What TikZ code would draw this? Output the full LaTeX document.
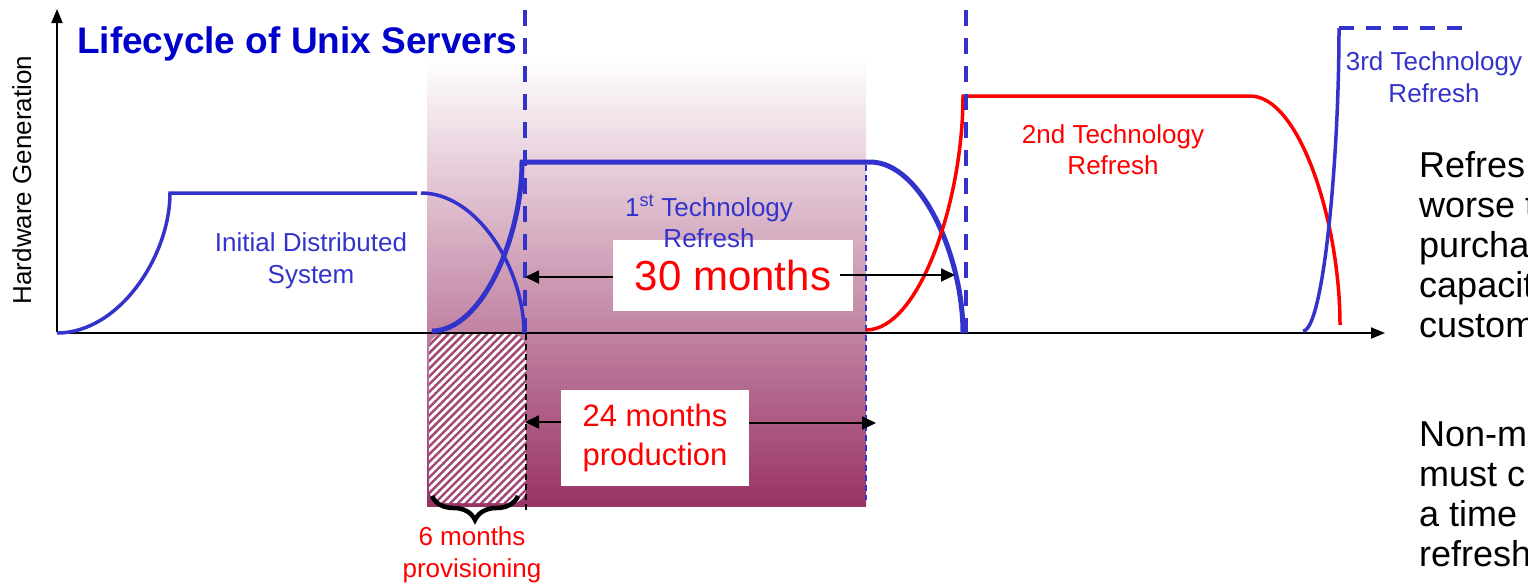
\documentclass[tikz,border=0pt]{standalone}
\usepackage{fontspec}
\setmainfont{Liberation Sans}
\usetikzlibrary{arrows.meta,patterns.meta,decorations.pathreplacing,shadings}
\definecolor{tblue}{RGB}{51,51,204}
\definecolor{ttitle}{RGB}{0,0,204}
\definecolor{tred}{RGB}{255,0,0}
\definecolor{tmaroon}{RGB}{153,51,102}
\definecolor{tstripe}{RGB}{160,72,115}
\begin{document}
\begin{tikzpicture}[x=1pt,y=-1pt,
  gen0/.style={draw=tblue,line width=3.5pt},
  gen1/.style={draw=tblue,line width=5pt},
  gen2/.style={draw=tred,line width=3.5pt},
  vdash/.style={draw=tblue,line width=4.5pt,dash pattern=on 16pt off 12pt},
  thindash/.style={line width=1.6pt,dash pattern=on 6pt off 4pt},
  lbl/.style={font=\fontsize{26}{31.5}\selectfont,align=center,inner sep=0pt},
  valbox/.style={fill=white,inner sep=0pt,text=tred,align=center},
  dimarrow/.style={draw=black,line width=1.8pt,-{Triangle[length=14pt,width=13pt]}},
  axisarrow/.style={draw=black,line width=2pt,-{Triangle[length=14pt,width=11pt]}},
  sidetext/.style={font=\fontsize{36}{40}\selectfont,align=left,inner sep=0pt,anchor=north west}
]
\useasboundingbox (0,0) rectangle (1528,584);
\clip (0,0) rectangle (1528,584);

% gradient background of the refresh window
\shade[top color=white,bottom color=tmaroon] (427,58) rectangle (866,506);

% hatched provisioning block
\fill[tstripe,rounded corners=14pt] (429,334) rectangle (526,503);
\fill[pattern={Lines[angle=45,distance=5.5pt,line width=2.8pt]},pattern color=white,rounded corners=14pt] (429,334) rectangle (526,503);

% coordinates
\coordinate (O) at (57,333);
\coordinate (ytip) at (57,9);
\coordinate (xtip) at (1385,333);
\coordinate (d1top) at (525,10);
\coordinate (d1bot) at (525,333);
\coordinate (d2top) at (966,10);
\coordinate (d2bot) at (966,333);
\coordinate (k1top) at (526,334);
\coordinate (k1bot) at (526,512);
\coordinate (t1top) at (866,165);
\coordinate (t1bot) at (866,500);
\coordinate (c30l) at (525,277);
\coordinate (c30r) at (955,275);
\coordinate (c24l) at (525,422);
\coordinate (c24r) at (876,423);
\coordinate (brR) at (518,496);
\coordinate (brL) at (432,496);

% thin dashed guides
\draw[thindash,black] (k1top) -- (k1bot);
\draw[thindash,tblue] (t1top) -- (t1bot);

% axes
\draw[axisarrow] (O) -- (xtip);
\draw[axisarrow] ([yshift=1pt]O) -- (ytip);

% initial distributed system
\draw[gen0] (57,333) .. controls (119.4,333) and (170,255.7) .. (170,193) -- (417,193);
\draw[gen0] (421,193) .. controls (477.9,193) and (524,269.7) .. (524,333);

% 1st technology refresh
\draw[gen1,line join=miter] (432,331) .. controls (481.7,331) and (522,237.7) .. (522,162) -- (870,162)
  .. controls (921.3,162) and (963,256.4) .. (963,333);

% 2nd technology refresh
\draw[gen2] (866,330) .. controls (919.5,330) and (963,200.3) .. (963,96) -- (1250,96)
  .. controls (1299.7,96) and (1340,222.4) .. (1340,325);

% 3rd technology refresh
\draw[gen0] (1303,331) .. controls (1322.9,331) and (1339,163.7) .. (1339,28);
\draw[draw=tblue,line width=4pt,dash pattern=on 15pt off 12pt] (1339,28) -- (1467,28);

% blue dashed refresh markers
\draw[vdash] (d1top) -- (d1bot);
\draw[vdash] (d2top) -- (d2bot);

% title and axis label
\node[font=\fontsize{37}{40}\selectfont\bfseries,text=ttitle,anchor=base west,inner sep=0pt] (title) at (77,53) {Lifecycle of Unix Servers};
\node[font=\fontsize{26}{30}\selectfont,rotate=90,anchor=base,inner sep=0pt] (ylabel) at (31,180) {Hardware Generation};

% value boxes
\node[valbox,minimum width=240pt,minimum height=71pt,font=\fontsize{42}{46}\selectfont] (b30) at (733,275.5) {30 months};
\node[valbox,minimum width=188pt,minimum height=96pt,font=\fontsize{31}{39}\selectfont] (b24) at (655,438) {24 months\\production};

% curve labels
\node[lbl,text=tblue] (linit) at (311,261) {Initial Distributed\\System};
\node[lbl,text=tblue] (lfirst) at (709,221.5) {1\textsuperscript{st} Technology\\Refresh};
\node[lbl,text=tred] (lsecond) at (1113,149.5) {2nd Technology\\Refresh};
\node[lbl,text=tblue] (lthird) at (1434,77) {3rd Technology\\Refresh};
\node[lbl,text=tred] (lsix) at (472,555) {6 months\\provisioning};

% dimension arrows
\draw[dimarrow] (b30.west |- c30l) -- (c30l);
\draw[dimarrow] ([xshift=-13pt]b30.east |- c30r) -- (c30r);
\draw[dimarrow] (b24.west |- c24l) -- (c24l);
\draw[dimarrow] (b24.east |- c24r) -- (c24r);

% brace
\draw[line width=4.5pt,decorate,decoration={brace,amplitude=24pt}] (brR) -- (brL);

% side text (cut by the page edge, as in the reference)
\node[sidetext] (side1) at (1419,151) {Refres\\worse t\\purcha\\capacit\\custom};
\node[sidetext] (side2) at (1419,422) {Non-m\\must c\\a time\\refresh};
\end{tikzpicture}
\end{document}
